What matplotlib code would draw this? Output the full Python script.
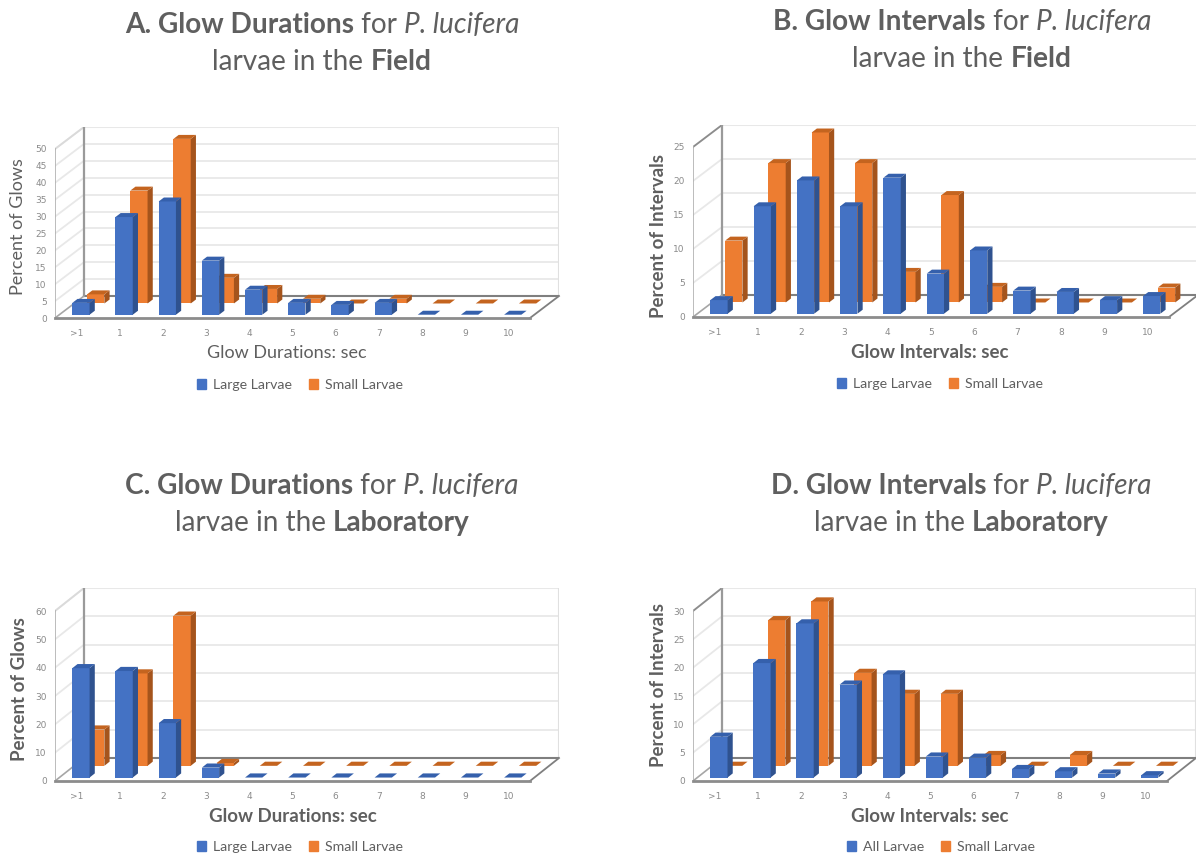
import matplotlib
matplotlib.use('Agg')
import matplotlib.pyplot as plt
from matplotlib.patches import Patch

W, H = 1196, 859
FONT = 'Lato'
GREY = '#5F5F5F'
BLUE = ('#4472C4', '#2F528F', '#3560AC')
ORANGE = ('#ED7D31', '#A5541C', '#C4641F')

categories = ['>1', '1', '2', '3', '4', '5', '6', '7', '8', '9', '10']

a_large = [3.5, 28.9, 33.5, 16, 7.4, 3.5, 2.9, 3.5, 0, 0, 0]
a_small = [2.7, 33.4, 48.7, 7.6, 4.3, 1.4, 0, 1.4, 0, 0, 0]
b_large = [2.0, 15.8, 19.6, 15.8, 20, 5.9, 9.3, 3.4, 3.2, 2, 2.6]
b_small = [9.1, 20.5, 25, 20.5, 4.5, 15.8, 2.3, 0, 0, 0, 2.2]
c_large = [38.6, 37.6, 19.2, 3.5, 0, 0, 0, 0, 0, 0, 0]
c_small = [12.8, 32.6, 53, 1, 0, 0, 0, 0, 0, 0, 0]
d_front = [7.2, 20.2, 27.2, 16.4, 18.2, 3.7, 3.5, 1.5, 1.1, 0.7, 0.4]
d_small = [0, 25.7, 29, 16.4, 12.7, 12.7, 1.9, 0, 1.9, 0, 0]


def draw_title(fig, cx, cy, runs, size=20.2):
    rend = fig.canvas.get_renderer()

    def width(txt, kw):
        t1 = fig.text(0, 0, txt + '.', fontsize=size, family=FONT, **kw)
        t2 = fig.text(0, 0, '.', fontsize=size, family=FONT, **kw)
        w = t1.get_window_extent(rend).width - t2.get_window_extent(rend).width
        t1.remove()
        t2.remove()
        return w

    total = sum(width(t, k) for t, k in runs)
    x = cx - total / 2
    for t, k in runs:
        fig.text(x / W, 1 - cy / H, t, fontsize=size, family=FONT, color=GREY,
                 va='center', ha='left', **k)
        x += width(t, k)


def box3d(ax, x, val, d0, d1, half, ddx, ddy, cols):
    # one bar: front, side, top. d0/d1 are fractions of floor depth
    xl = x + d0 * ddx - half
    xr = x + d0 * ddx + half
    y0 = d0 * ddy
    sx = (d1 - d0) * ddx
    sy = (d1 - d0) * ddy
    if val > 0:
        ax.fill([xl, xr, xr, xl], [y0, y0, y0 + val, y0 + val], color=cols[0], lw=0, zorder=3)
        ax.fill([xr, xr + sx, xr + sx, xr], [y0, y0 + sy, y0 + sy + val, y0 + val],
                color=cols[1], lw=0, zorder=3)
    ax.fill([xl, xr, xr + sx, xl + sx], [y0 + val, y0 + val, y0 + val + sy, y0 + val + sy],
            color=cols[2], lw=0, zorder=3)


def panel(fig, left, right, floor, top, depth_x, depth_y, ymax, ystep, front, back,
          xlabel, ylabel, lab_names, legend_cx, legend_y, side_col, lab_weight, lab_size,
          xlab_cx, ylab_x, ylab_cy):
    spacing = (right - left) / 11.0
    ppu = (floor - depth_y - top) / float(ymax)
    ddx = depth_x / spacing
    ddy = depth_y / ppu

    ax = fig.add_axes([left / W, 1 - floor / H, (right + depth_x - left) / W, (floor - top) / H])
    ax.set_xlim(-0.5, 10.5 + ddx)
    ax.set_ylim(0, ymax + ddy)
    for s in ax.spines.values():
        s.set_visible(False)
    ax.patch.set_alpha(0)

    ticks = list(range(0, ymax + 1, ystep))
    for v in ticks[1:]:
        ax.plot([-0.5 + ddx, 10.5 + ddx], [v + ddy, v + ddy], color='#E8E8E8', lw=1.3, zorder=1)
        ax.plot([-0.5, -0.5 + ddx], [v, v + ddy], color='#E8E8E8', lw=1.3, zorder=1)
    # walls and floor
    ax.plot([-0.5 + ddx, 10.5 + ddx], [ymax + ddy, ymax + ddy], color='#E8E8E8', lw=1.5, zorder=1)
    ax.plot([10.5 + ddx, 10.5 + ddx], [ddy, ymax + ddy], color='#E0E0E0', lw=1.5, zorder=1)
    ax.plot([-0.5, -0.5 + ddx], [ymax, ymax + ddy], color=side_col, lw=1.3, zorder=1)
    ax.plot([-0.5, -0.5], [0, ymax], color='#B0B0B0', lw=1.2, zorder=1)
    ax.plot([-0.5 + ddx, -0.5 + ddx], [ddy, ymax + ddy], color='#9A9A9A', lw=1.6, zorder=2)
    ax.plot([-0.5 + ddx, 10.5 + ddx], [ddy, ddy], color='#7F7F7F', lw=1.5, zorder=2)
    ax.plot([-0.5, -0.5 + ddx], [0, ddy], color='#A6A6A6', lw=1.2, zorder=2)
    ax.plot([10.5, 10.5 + ddx], [0, ddy], color='#7F7F7F', lw=1.3, zorder=2, clip_on=False)
    ax.plot([-0.5, 10.5], [0, 0], color='#8C8C8C', lw=2, zorder=2, clip_on=False)

    for i, v in enumerate(back):
        box3d(ax, i, v, 0.66, 0.84, 0.2, ddx, ddy, ORANGE)
    for i, v in enumerate(front):
        box3d(ax, i, v, 0.15, 0.33, 0.2, ddx, ddy, BLUE)

    ax.set_xticks(range(len(categories)))
    ax.set_xticklabels(categories)
    ax.set_yticks(ticks)
    ax.tick_params(length=0, labelsize=6.5, labelcolor='#8A8A8A', pad=6)
    ax.tick_params(axis='x', pad=8)

    fig.text(xlab_cx / W, 1 - (floor + 35) / H, xlabel, family=FONT, fontsize=lab_size,
             color=GREY, ha='center', va='center', weight=lab_weight)
    fig.text(ylab_x / W, 1 - ylab_cy / H, ylabel, family=FONT, fontsize=lab_size,
             color=GREY, ha='center', va='center', rotation=90, weight=lab_weight)

    handles = [Patch(color=BLUE[0], label=lab_names[0]), Patch(color=ORANGE[0], label=lab_names[1])]
    fig.legend(handles=handles, loc='center', ncol=2, frameon=False,
               bbox_to_anchor=(legend_cx / W, 1 - legend_y / H),
               prop={'family': FONT, 'size': 10.2}, labelcolor=GREY,
               handlelength=0.6, handleheight=0.7, handletextpad=0.5, columnspacing=1.2)


fig = plt.figure(figsize=(W / 100, H / 100), dpi=100)

panel(fig, 55, 530, 318, 127, 29, 22, 50, 5, a_large, a_small, 'Glow Durations: sec', 'Percent of Glows',
      ('Large Larvae', 'Small Larvae'), 300, 385, '#DADADA', 'normal', 13, 287, 18, 227)
panel(fig, 693, 1169, 317, 125, 29, 22, 25, 5, b_large, b_small, 'Glow Intervals: sec', 'Percent of Intervals',
      ('Large Larvae', 'Small Larvae'), 940, 384, '#8C8C8C', 'bold', 13.5, 930, 659, 236)
panel(fig, 55, 530, 781, 588, 29, 23, 60, 10, c_large, c_small, 'Glow Durations: sec', 'Percent of Glows',
      ('Large Larvae', 'Small Larvae'), 300, 847, '#DADADA', 'bold', 13.5, 293, 20, 689)
panel(fig, 693, 1167, 781, 588, 29, 23, 30, 5, d_front, d_small, 'Glow Intervals: sec', 'Percent of Intervals',
      ('All Larvae', 'Small Larvae'), 941, 847, '#8C8C8C', 'bold', 13.5, 930, 659, 685)

BOLD = {'weight': 'bold'}
REG = {}
ITAL = {'style': 'italic'}

draw_title(fig, 322, 25, [('A. Glow Durations', BOLD), (' for ', REG), ('P. lucifera', ITAL)])
draw_title(fig, 322, 62, [('larvae in the ', REG), ('Field', BOLD)])
draw_title(fig, 962, 22, [('B. Glow Intervals', BOLD), (' for ', REG), ('P. lucifera', ITAL)])
draw_title(fig, 962, 59, [('larvae in the ', REG), ('Field', BOLD)])
draw_title(fig, 322, 486, [('C. Glow Durations', BOLD), (' for ', REG), ('P. lucifera', ITAL)])
draw_title(fig, 322, 523, [('larvae in the ', REG), ('Laboratory', BOLD)])
draw_title(fig, 961, 486, [('D. Glow Intervals', BOLD), (' for ', REG), ('P. lucifera', ITAL)])
draw_title(fig, 961, 523, [('larvae in the ', REG), ('Laboratory', BOLD)])

fig.savefig('out.png', dpi=100)
